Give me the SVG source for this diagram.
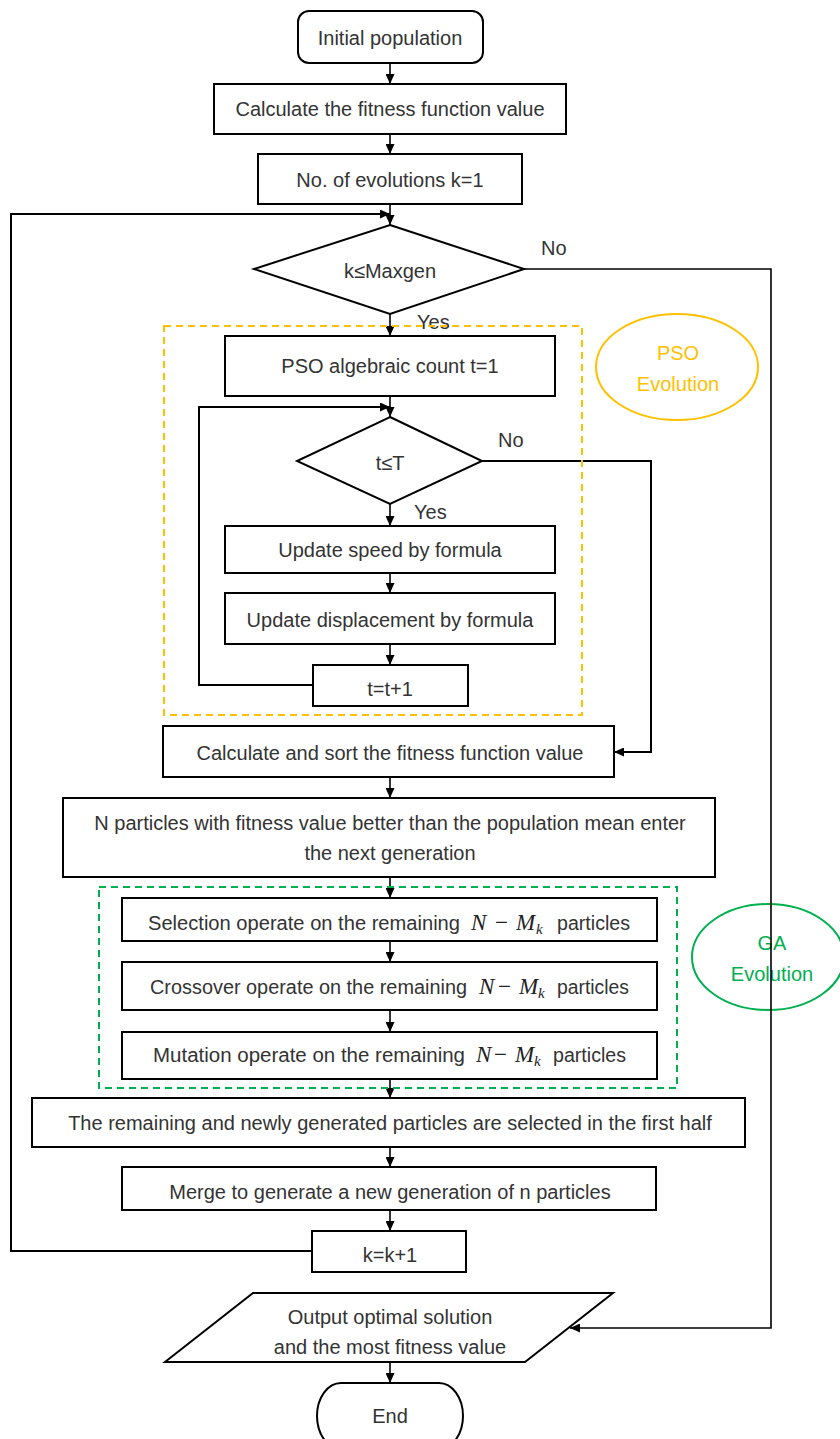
<svg xmlns="http://www.w3.org/2000/svg" width="840" height="1439" viewBox="0 0 840 1439">
  <style>
    .box { fill: #fff; stroke: #000; stroke-width: 2; }
    .ln { fill: none; stroke: #000; stroke-width: 1.6; }
    .t { font-family: "Liberation Sans", Arial, sans-serif; font-size: 20px; fill: #333; text-anchor: middle; }
    .ts { font-family: "Liberation Sans", Arial, sans-serif; font-size: 20px; fill: #333; }
    .m { font-family: "Liberation Serif", "Times New Roman", serif; font-style: italic; font-size: 23px; fill: #222; }
    .pso { fill: none; stroke: #FFC000; stroke-width: 2; }
    .ga { fill: none; stroke: #00B050; stroke-width: 2; }
    .dash { stroke-dasharray: 7 5; }
  </style>
  <defs>
    <marker id="arrow" markerUnits="userSpaceOnUse" markerWidth="10" markerHeight="9" refX="10" refY="4.5" orient="auto">
      <path d="M0,0 L10,4.5 L0,9 Z" fill="#000"/>
    </marker>
  </defs>

  <!-- group labels behind the connectors -->
  <g id="pso-label">
    <ellipse class="pso" cx="677" cy="367" rx="81" ry="53"/>
    <text class="t" x="678" y="360" style="fill:#FFC000">PSO</text>
    <text class="t" x="678" y="391" style="fill:#FFC000">Evolution</text>
  </g>
  <g id="ga-label">
    <ellipse class="ga" cx="768" cy="957" rx="76" ry="53"/>
    <text class="t" x="772" y="950" style="fill:#00B050">GA</text>
    <text class="t" x="772" y="981" style="fill:#00B050">Evolution</text>
  </g>

  <!-- connectors -->
  <g id="connectors">
    <line class="ln" x1="390" y1="64" x2="390" y2="84" marker-end="url(#arrow)"/>
    <line class="ln" x1="390" y1="134" x2="390" y2="154" marker-end="url(#arrow)"/>
    <line class="ln" x1="390" y1="204" x2="390" y2="225" marker-end="url(#arrow)"/>
    <polyline class="ln" points="312,1251 11,1251 11,214 390,214" marker-end="url(#arrow)" style="stroke-width:2"/>
    <polyline class="ln" points="524,269 771,269 771,1328 570,1328" marker-end="url(#arrow)"/>
    <line class="ln" x1="390" y1="314" x2="390" y2="336" marker-end="url(#arrow)"/>
    <line class="ln" x1="390" y1="396" x2="390" y2="417" marker-end="url(#arrow)"/>
    <polyline class="ln" points="313,685 199,685 199,407 390,407" marker-end="url(#arrow)" style="stroke-width:2"/>
    <polyline class="ln" points="482,461 651,461 651,752 614,752" marker-end="url(#arrow)" style="stroke-width:2"/>
    <line class="ln" x1="390" y1="504" x2="390" y2="526" marker-end="url(#arrow)"/>
    <line class="ln" x1="390" y1="573" x2="390" y2="593" marker-end="url(#arrow)"/>
    <line class="ln" x1="390" y1="644" x2="390" y2="665" marker-end="url(#arrow)"/>
    <line class="ln" x1="390" y1="777" x2="390" y2="798" marker-end="url(#arrow)"/>
    <line class="ln" x1="390" y1="877" x2="390" y2="898" marker-end="url(#arrow)"/>
    <line class="ln" x1="390" y1="941" x2="390" y2="962" marker-end="url(#arrow)"/>
    <line class="ln" x1="390" y1="1010" x2="390" y2="1032" marker-end="url(#arrow)"/>
    <line class="ln" x1="390" y1="1079" x2="390" y2="1098" marker-end="url(#arrow)"/>
    <line class="ln" x1="390" y1="1147" x2="390" y2="1167" marker-end="url(#arrow)"/>
    <line class="ln" x1="390" y1="1210" x2="390" y2="1231" marker-end="url(#arrow)"/>
    <line class="ln" x1="390" y1="1362" x2="390" y2="1383" marker-end="url(#arrow)"/>
  </g>

  <!-- branch labels -->
  <g id="branch-labels">
    <text class="ts" x="541" y="255">No</text>
    <text class="ts" x="417" y="329">Yes</text>
    <text class="ts" x="498" y="447">No</text>
    <text class="ts" x="414" y="519">Yes</text>
  </g>

  <!-- nodes -->
  <g id="start">
    <rect class="box" x="298" y="11" width="185" height="52" rx="11"/>
    <text class="t" x="390" y="45">Initial population</text>
  </g>
  <g id="calc-fitness">
    <rect class="box" x="214" y="84" width="352" height="50"/>
    <text class="t" x="390" y="116">Calculate the fitness function value</text>
  </g>
  <g id="init-k">
    <rect class="box" x="258" y="154" width="264" height="50"/>
    <text class="t" x="390" y="187">No. of evolutions k=1</text>
  </g>
  <g id="check-k">
    <polygon class="box" points="390,225 524,269 390,314 254,269"/>
    <text class="t" x="390" y="278">k≤Maxgen</text>
  </g>
  <g id="pso-init">
    <rect class="box" x="225" y="336" width="330" height="60"/>
    <text class="t" x="390" y="373">PSO algebraic count t=1</text>
  </g>
  <g id="check-t">
    <polygon class="box" points="390,417 482,461 390,504 297,461"/>
    <text class="t" x="390" y="470">t≤T</text>
  </g>
  <g id="update-speed">
    <rect class="box" x="225" y="526" width="330" height="47"/>
    <text class="t" x="390" y="557">Update speed by formula</text>
  </g>
  <g id="update-displacement">
    <rect class="box" x="225" y="593" width="330" height="51"/>
    <text class="t" x="390" y="627">Update displacement by formula</text>
  </g>
  <g id="inc-t">
    <rect class="box" x="313" y="665" width="155" height="41"/>
    <text class="t" x="390" y="696">t=t+1</text>
  </g>
  <g id="calc-sort">
    <rect class="box" x="163" y="726" width="451" height="51"/>
    <text class="t" x="390" y="760">Calculate and sort the fitness function value</text>
  </g>
  <g id="elite">
    <rect class="box" x="63" y="798" width="652" height="79"/>
    <text class="t" x="390" y="830">N particles with fitness value better than the population mean enter</text>
    <text class="t" x="390" y="860">the next generation</text>
  </g>
  <g id="selection">
    <rect class="box" x="122" y="898" width="535" height="43"/>
    <text class="ts" x="148" y="930" textLength="312" lengthAdjust="spacingAndGlyphs">Selection operate on the remaining</text>
    <text class="m" y="930"><tspan x="471">N</tspan><tspan x="495" font-style="normal">−</tspan><tspan x="516">M</tspan><tspan x="536" dy="4" font-size="15">k</tspan></text>
    <text class="ts" x="557" y="930" textLength="73" lengthAdjust="spacingAndGlyphs">particles</text>
  </g>
  <g id="crossover">
    <rect class="box" x="122" y="962" width="535" height="48"/>
    <text class="ts" x="150" y="994" textLength="317" lengthAdjust="spacingAndGlyphs">Crossover operate on the remaining</text>
    <text class="m" y="994"><tspan x="479">N</tspan><tspan x="498" font-style="normal">−</tspan><tspan x="519">M</tspan><tspan x="538" dy="4" font-size="15">k</tspan></text>
    <text class="ts" x="557" y="994" textLength="72" lengthAdjust="spacingAndGlyphs">particles</text>
  </g>
  <g id="mutation">
    <rect class="box" x="122" y="1032" width="535" height="47"/>
    <text class="ts" x="153" y="1062" textLength="312" lengthAdjust="spacingAndGlyphs">Mutation operate on the remaining</text>
    <text class="m" y="1062"><tspan x="476">N</tspan><tspan x="494" font-style="normal">−</tspan><tspan x="515">M</tspan><tspan x="534" dy="4" font-size="15">k</tspan></text>
    <text class="ts" x="553" y="1062" textLength="73" lengthAdjust="spacingAndGlyphs">particles</text>
  </g>
  <g id="half-select">
    <rect class="box" x="32" y="1098" width="713" height="49"/>
    <text class="t" x="390" y="1130">The remaining and newly generated particles are selected in the first half</text>
  </g>
  <g id="merge">
    <rect class="box" x="122" y="1167" width="534" height="43"/>
    <text class="t" x="390" y="1199">Merge to generate a new generation of n particles</text>
  </g>
  <g id="inc-k">
    <rect class="box" x="312" y="1231" width="154" height="41"/>
    <text class="t" x="390" y="1262">k=k+1</text>
  </g>
  <g id="output">
    <polygon class="box" points="253,1293 613,1293 525,1362 165,1362"/>
    <text class="t" x="390" y="1324">Output optimal solution</text>
    <text class="t" x="390" y="1354">and the most fitness value</text>
  </g>
  <g id="end">
    <rect class="box" x="317" y="1383" width="146" height="66" rx="24" ry="33"/>
    <text class="t" x="390" y="1423">End</text>
  </g>

  <!-- dashed frames around the two evolution stages -->
  <g id="pso-frame">
    <rect class="pso dash" x="164" y="326" width="418" height="389"/>
  </g>
  <g id="ga-frame">
    <rect class="ga dash" x="99" y="887" width="578" height="201"/>
  </g>
</svg>
